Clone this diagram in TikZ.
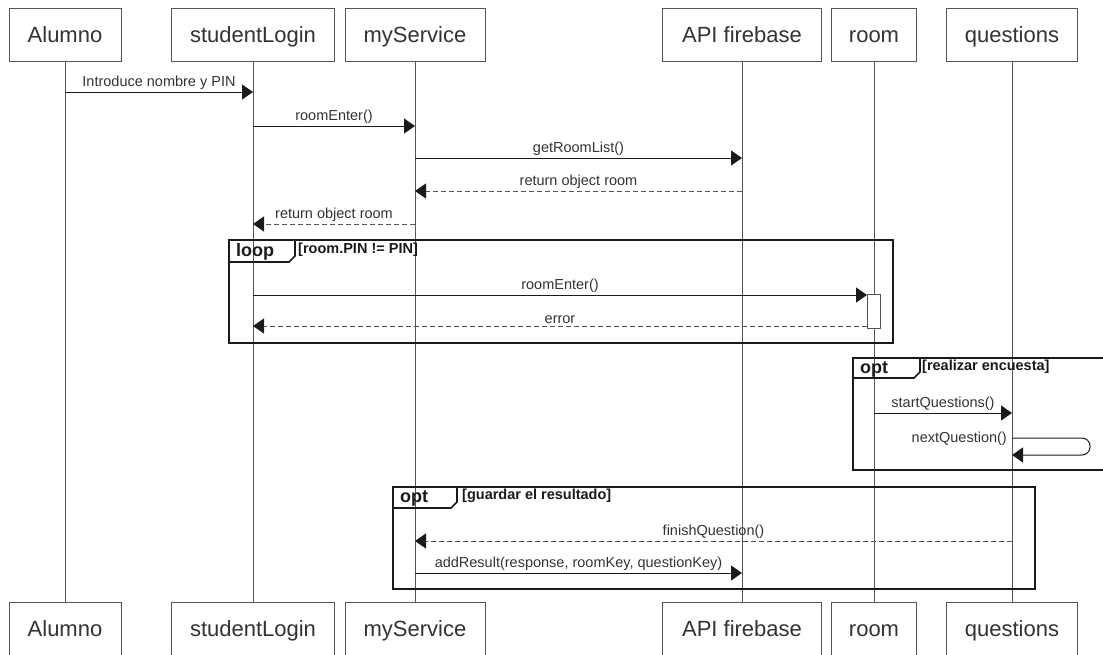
\documentclass[tikz,border=0pt]{standalone}
\usepackage{fontspec}
\setmainfont{Liberation Sans}
\usetikzlibrary{arrows.meta}
\definecolor{Ink}{HTML}{1A1A1A}
\definecolor{Line}{HTML}{555555}
\definecolor{Txt}{HTML}{333333}
\begin{document}
\begin{tikzpicture}[x=1pt,y=-1pt,
    obj/.style={draw=Line,line width=1pt,fill=white,minimum height=53pt,inner sep=0pt,text height=17pt,text depth=2pt,font=\fontsize{22}{26}\selectfont,text=Txt},
    life/.style={draw=Line,line width=1pt},
    msg/.style={-{Triangle[length=11pt,width=15pt,color=Ink]},line width=1pt,draw=Ink},
    ret/.style={msg,dash pattern=on 5pt off 3pt,draw=Line},
    lbl/.style={font=\fontsize{14.5}{16}\selectfont,text=Txt,anchor=south,inner sep=1pt,yshift=1pt},
    frm/.style={draw=Ink,line width=1.6pt},
    tag/.style={font=\bfseries\fontsize{18}{20}\selectfont,anchor=west,inner sep=0pt,text=Ink},
    grd/.style={font=\bfseries\fontsize{14.5}{16}\selectfont,anchor=west,inner sep=0pt,text=Ink}
  ]
    \useasboundingbox (0,0) rectangle (1103,654);
    \node[obj,minimum width=112pt] (alu) at (65,34.5) {Alumno};
    \node[obj,minimum width=163pt] (slog) at (253,34.5) {studentLogin};
    \node[obj,minimum width=140pt] (serv) at (415,34.5) {myService};
    \node[obj,minimum width=159pt] (fire) at (742,34.5) {API firebase};
    \node[obj,minimum width=85pt] (room) at (874,34.5) {room};
    \node[obj,minimum width=131pt] (ques) at (1012,34.5) {questions};
    \node[obj,minimum width=112pt] (alu2) at (65,628.5) {Alumno};
    \node[obj,minimum width=163pt] (slog2) at (253,628.5) {studentLogin};
    \node[obj,minimum width=140pt] (serv2) at (415,628.5) {myService};
    \node[obj,minimum width=159pt] (fire2) at (742,628.5) {API firebase};
    \node[obj,minimum width=85pt] (room2) at (874,628.5) {room};
    \node[obj,minimum width=131pt] (ques2) at (1012,628.5) {questions};
    \draw[life] (alu) -- (alu2); \draw[life] (slog) -- (slog2); \draw[life] (serv) -- (serv2);
    \draw[life] (fire) -- (fire2); \draw[life] (room) -- (room2); \draw[life] (ques) -- (ques2);

    \draw[msg] (alu |- 0,92) -- node[lbl]{Introduce nombre y PIN} (slog |- 0,92);
    \draw[msg] (slog |- 0,126) -- node[lbl]{roomEnter()} (serv |- 0,126);
    \draw[msg] (serv |- 0,158) -- node[lbl]{getRoomList()} (fire |- 0,158);
    \draw[ret] (fire |- 0,191) -- node[lbl]{return object room} (serv |- 0,191);
    \draw[ret] (serv |- 0,224) -- node[lbl]{return object room} (slog |- 0,224);

    \draw[frm] (229,240) rectangle (893,343);
    \draw[frm] (229,262) -- (289,262) -- (295,256) -- (295,240);
    \node[tag] (looptag) at (236,252) {loop};
    \node[grd] (loopgrd) at (298,250) {[room.PIN != PIN]};
    \node[draw=Line,fill=white,line width=1pt,minimum width=13pt,minimum height=34pt,inner sep=0pt] (act) at (874,311) {};
    \draw[msg] (slog |- 0,295) -- node[lbl]{roomEnter()} (act.west |- 0,295);
    \draw[ret] (act.west |- 0,326) -- node[lbl]{error} (slog |- 0,326);

    \draw[frm] (1103,358) -- (853,358) -- (853,470) -- (1103,470);
    \draw[frm] (853,378) -- (914,378) -- (920,372) -- (920,358);
    \node[tag] (opttag1) at (860,369) {opt};
    \node[grd] (optgrd1) at (922,367) {[realizar encuesta]};
    \draw[msg] (room |- 0,413) -- node[lbl]{startQuestions()} (ques |- 0,413);
    \draw[msg,rounded corners=8pt] (ques |- 0,438) -- (1090,438) -- (1090,455) -- (ques |- 0,455);
    \node[lbl,anchor=east,yshift=0pt] (nextq) at (1008,440) {nextQuestion()};

    \draw[frm] (393,487) rectangle (1035,589);
    \draw[frm] (393,508) -- (451,508) -- (457,502) -- (457,487);
    \node[tag] (opttag2) at (400,498) {opt};
    \node[grd] (optgrd2) at (462,496) {[guardar el resultado]};
    \draw[ret] (ques |- 0,541) -- node[lbl]{finishQuestion()} (serv |- 0,541);
    \draw[msg] (serv |- 0,573) -- node[lbl]{addResult(response, roomKey, questionKey)} (fire |- 0,573);
  \end{tikzpicture}
\end{document}
